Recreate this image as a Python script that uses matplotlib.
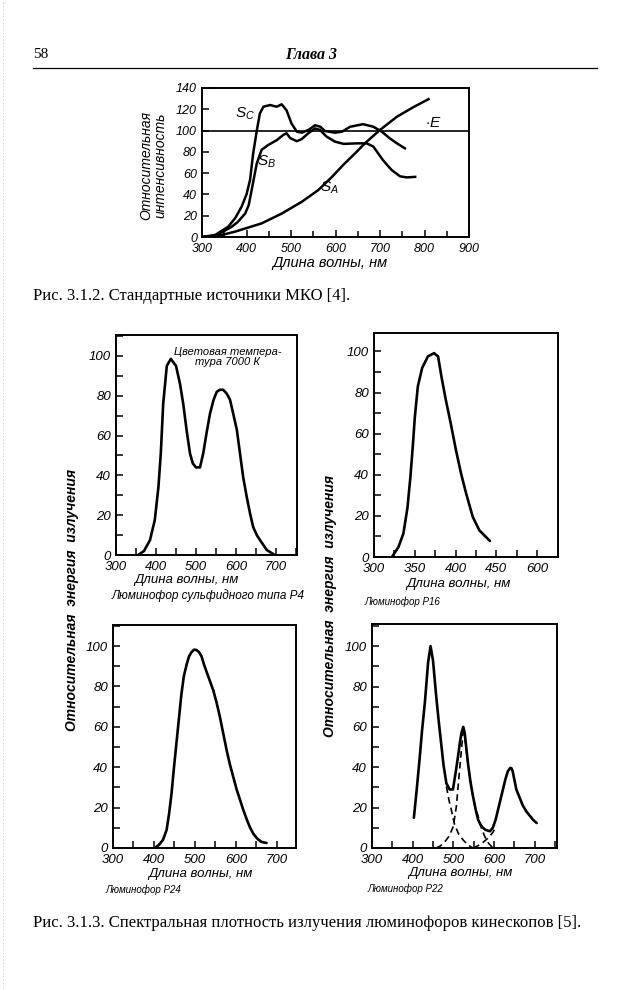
import matplotlib
matplotlib.use('Agg')
import matplotlib.pyplot as plt
from matplotlib.ticker import MultipleLocator, FixedLocator
from matplotlib.lines import Line2D

# Tamanho da página em pixels
W, H = 641, 990

# ---- Рис. 3.1.2: стандартные источники МКО ----
sa_nm = [300, 329, 374, 434, 479, 524, 561, 591, 618, 645, 666, 700, 738, 775, 809]
sa_val = [0, 0.3, 5, 12.8, 22, 33, 44, 56, 68, 79, 88, 100.6, 113, 122, 129.5]

sb_nm = [300, 330, 367, 380, 397, 405, 412, 423, 434, 449, 468, 483, 490, 498, 513, 524, 539, 554, 565,
         580, 599, 618, 650, 670, 685, 707, 726, 745, 760, 779]
sb_val = [0, 1, 9.7, 14, 22, 30, 45, 69, 82, 86.5, 91, 96, 97.5, 93, 90, 92, 97.5, 102, 100.6,
          94.3, 89.6, 87.5, 88, 88, 85, 72, 63, 57, 56, 56.5]

sc_nm = [300, 330, 359, 375, 389, 400, 408, 415, 423, 430, 438, 453, 468, 479, 490, 501, 513, 524, 539,
         554, 566, 576, 599, 615, 633, 662, 685, 704, 722, 738, 756]
sc_val = [0, 2, 9.7, 18, 28.5, 40, 53.6, 78.6, 99.6, 116, 122.4, 124, 122.4, 124.7, 119, 106.8, 99, 98, 100.5,
          105, 103.6, 99.6, 98, 99, 103.6, 106, 103.6, 99, 92.7, 88, 83.3]

e_nm = [300, 900]
e_val = [100, 100]

# ---- Рис. 3.1.3: люминофоры ----
p4_nm = [355, 370, 385, 397, 406, 412, 418, 427, 437, 450, 460, 468, 477, 485, 492, 500, 510, 518, 527,
         535, 544, 552, 560, 568, 577, 585, 593, 602, 610, 618, 627, 635, 643, 652, 660, 677, 697]
p4_val = [0, 2, 7.5, 17.6, 34, 51, 76, 95, 98.5, 95, 86, 76, 62, 51, 46, 44, 44, 51, 62,
          71, 78, 82, 83, 83, 81, 78, 71, 63, 51, 39, 29, 21, 14, 10, 7.5, 2.5, 0]

p16_nm = [322, 330, 336, 341, 344.6, 347.5, 350, 353.7, 359, 366, 373.5, 378.5, 382.6, 388, 394,
          400.4, 406.6, 412.8, 421, 429, 442]
p16_val = [0, 4.9, 11.4, 24, 39, 53.7, 68, 83, 92, 97.6, 99.2, 97.6, 87.8, 76.4, 65,
           52, 40.7, 31, 19.5, 13, 7.8]

p24_nm = [402, 412, 422, 431, 437, 443, 449, 455, 461, 467, 473, 480, 486, 492, 498, 504, 510, 516,
          522, 529, 537, 545, 553, 561, 570, 578, 586, 594, 602, 610, 618, 627, 635, 643, 653, 663, 675]
p24_val = [0, 1.5, 4, 9, 17, 27, 40, 52, 64, 76, 85, 91, 95, 97, 98.2, 98, 97, 95,
           91, 87, 82.5, 78, 72, 65, 56, 48, 41, 35, 29, 24, 19, 14, 10, 7, 4.5, 3, 2.5]

p22_nm = [403, 410, 417, 423, 430, 438, 444, 450, 458, 464, 470, 476, 483, 491, 499, 507, 512, 516, 520,
          524.5, 528, 536, 542, 548, 555, 561, 567, 573, 579, 590, 597, 604, 610, 616, 622, 628, 634,
          640, 643, 646, 650, 655, 663, 671, 680, 688, 696, 705]
p22_val = [15, 29, 44, 58, 72, 92, 100, 93, 75, 63, 52, 41, 32, 29, 29, 39, 46, 52, 57,
           60, 57, 42, 33, 26, 19, 14, 11.5, 10, 9, 8.3, 10, 14, 19, 24, 29, 34, 38,
           39.7, 39.5, 38, 34, 29, 25, 21, 18, 16, 14, 12.4]

# Componentes tracejadas do P22
p22_azul_nm = [483, 489, 495, 503, 513, 524, 536, 548]
p22_azul_val = [30.5, 24, 19, 11.6, 7, 4, 1.5, 0]
p22_verde_sobe_nm = [458, 468, 479, 490, 500, 507.5, 514, 520, 524.5]
p22_verde_sobe_val = [0, 1, 3, 6, 10.7, 20.6, 35.5, 48.8, 58]
p22_verde_desce_nm = [528, 536, 545, 553, 561, 569, 577, 586, 593.6, 598]
p22_verde_desce_val = [55, 42, 29, 21, 15.7, 10, 5.8, 2.5, 0.8, 0]
p22_verm_nm = [549, 561, 573, 586, 597.5, 605]
p22_verm_val = [0, 1.2, 2.8, 5, 7.8, 11]

TXT = ['Liberation Sans', 'DejaVu Sans']
SERIF = ['Liberation Serif', 'DejaVu Serif']
# Todo o texto dos gráficos em itálico; as legendas da página voltam ao normal
plt.rcParams['font.family'] = TXT
plt.rcParams['font.style'] = 'italic'
plt.rcParams['mathtext.fontset'] = 'custom'
plt.rcParams['mathtext.it'] = 'Liberation Sans:italic'
plt.rcParams['mathtext.rm'] = 'Liberation Sans:italic'


def eixos(fig, x0, y0, x1, y1):
    """Cria eixos a partir da caixa em pixels da página."""
    return fig.add_axes([x0 / W, 1 - y1 / H, (x1 - x0) / W, (y1 - y0) / H])


def texto(fig, x, y, s, **kw):
    fig.text(x / W, 1 - y / H, s, **kw)


def estilo(ax, size=9):
    for sp in ax.spines.values():
        sp.set_linewidth(1.4)
    ax.tick_params(which='both', direction='in', width=1.1, labelsize=size)
    ax.tick_params(axis='x', pad=4.5)
    ax.tick_params(axis='y', pad=3.5)
    ax.tick_params(which='major', length=5)
    ax.tick_params(which='minor', length=4)


fig = plt.figure(figsize=(W / 100, H / 100), dpi=100)

# Cabeçalho da página
texto(fig, 33, 55, '58', family=SERIF, style='normal', fontsize=11, va='center', ha='left')
texto(fig, 311, 55, 'Глава 3', family=SERIF, fontsize=11.5, weight='bold', va='center', ha='center')
fig.add_artist(Line2D([33 / W, 597 / W], [1 - 68 / H, 1 - 68 / H], color='black', lw=0.9))
fig.add_artist(Line2D([3 / W, 3 / W], [0, 1], color='#bbbbbb', lw=0.6, ls=(0, (1, 3))))

# ---- gráfico superior ----
ax = eixos(fig, 202, 88, 469, 237)
ax.plot(sa_nm, sa_val, color='black', lw=1.8)
ax.plot(sb_nm, sb_val, color='black', lw=1.8)
ax.plot(sc_nm, sc_val, color='black', lw=1.8)
ax.plot(e_nm, e_val, color='black', lw=1.2)
ax.set_xlim(300, 900)
ax.set_ylim(0, 140)
ax.xaxis.set_major_locator(MultipleLocator(100))
ax.xaxis.set_minor_locator(MultipleLocator(50))
ax.yaxis.set_major_locator(MultipleLocator(20))
estilo(ax, 9)
ax.text(397, 116, '$S_C$', fontsize=11, ha='center', va='center')
ax.text(445, 71, '$S_B$', fontsize=11, ha='center', va='center')
ax.text(586, 46, '$S_A$', fontsize=11, ha='center', va='center')
ax.text(820, 107, '$\\cdot E$', fontsize=11, ha='center', va='center')
texto(fig, 153, 165, 'Относительная\nинтенсивность', fontsize=10,
      rotation=90, ha='center', va='center', linespacing=1.0)
texto(fig, 330, 263, 'Длина волны, нм', fontsize=10.5, ha='center', va='center')
texto(fig, 33, 296, 'Рис. 3.1.2. Стандартные источники МКО [4].', family=SERIF, style='normal',
      fontsize=12, ha='left', va='center')

# ---- painéis dos luminóforos ----
paineis = [
    ((116, 335, 297, 555), (300, 752.5), 110.5, p4_nm, p4_val, [300, 400, 500, 600, 700], None, 50),
    ((374, 333, 558, 557), (300, 525.4), 109, p16_nm, p16_val, [300, 350, 400, 450, 500],
     ['300', '350', '400', '450', '600'], 25),
    ((113, 625, 296, 848), (300, 747), 110.4, p24_nm, p24_val, [300, 400, 500, 600, 700], None, 50),
    ((372, 624, 557, 848), (300, 755), 111, p22_nm, p22_val, [300, 400, 500, 600, 700], None, 50),
]
eixos_lum = []
for caixa, xlim, ytop, xs, ys, ticks, rotulos, menor in paineis:
    a = eixos(fig, *caixa)
    a.plot(xs, ys, color='black', lw=1.9, solid_capstyle='round')
    a.set_xlim(*xlim)
    a.set_ylim(0, ytop)
    a.xaxis.set_major_locator(FixedLocator(ticks))
    if rotulos:
        a.set_xticklabels(rotulos)
    a.xaxis.set_minor_locator(MultipleLocator(menor))
    a.yaxis.set_major_locator(MultipleLocator(20))
    a.yaxis.set_minor_locator(MultipleLocator(10))
    estilo(a, 9.5)
    a.tick_params(which='minor', length=5)
    eixos_lum.append(a)

# Componentes do P22 em tracejado
a22 = eixos_lum[3]
for xs, ys in [(p22_azul_nm, p22_azul_val), (p22_verde_sobe_nm, p22_verde_sobe_val),
               (p22_verde_desce_nm, p22_verde_desce_val), (p22_verm_nm, p22_verm_val)]:
    a22.plot(xs, ys, color='black', lw=1.2, ls=(0, (4, 2.5)))

eixos_lum[0].text(0.615, 0.9, 'Цветовая темпера-\nтура 7000 К', transform=eixos_lum[0].transAxes,
                  fontsize=8, ha='center', va='center', linespacing=0.95)

# Rótulos dos eixos x e legendas
rot = dict(ha='center', va='center')
texto(fig, 186, 580, 'Длина волны, нм', fontsize=9.5, **rot)
texto(fig, 208, 596, 'Люминофор сульфидного типа P4', fontsize=8.5, **rot)
texto(fig, 458, 584, 'Длина волны, нм', fontsize=9.5, **rot)
texto(fig, 402, 602, 'Люминофор Р16', fontsize=7, **rot)
texto(fig, 200, 874, 'Длина волны, нм', fontsize=9.5, **rot)
texto(fig, 143, 890, 'Люминофор Р24', fontsize=7, **rot)
texto(fig, 460, 873, 'Длина волны, нм', fontsize=9.5, **rot)
texto(fig, 405, 889, 'Люминофор Р22', fontsize=7, **rot)

# Rótulo comum do eixo y (à esquerda e entre as colunas)
texto(fig, 72, 600, 'Относительная  энергия  излучения', fontsize=10, rotation=90, weight='bold', **rot)
texto(fig, 330, 606, 'Относительная  энергия  излучения', fontsize=10, rotation=90, weight='bold', **rot)

texto(fig, 33, 923, 'Рис. 3.1.3. Спектральная плотность излучения люминофоров кинескопов [5].',
      family=SERIF, style='normal', fontsize=12, ha='left', va='center')

fig.savefig('out.png', dpi=100)
